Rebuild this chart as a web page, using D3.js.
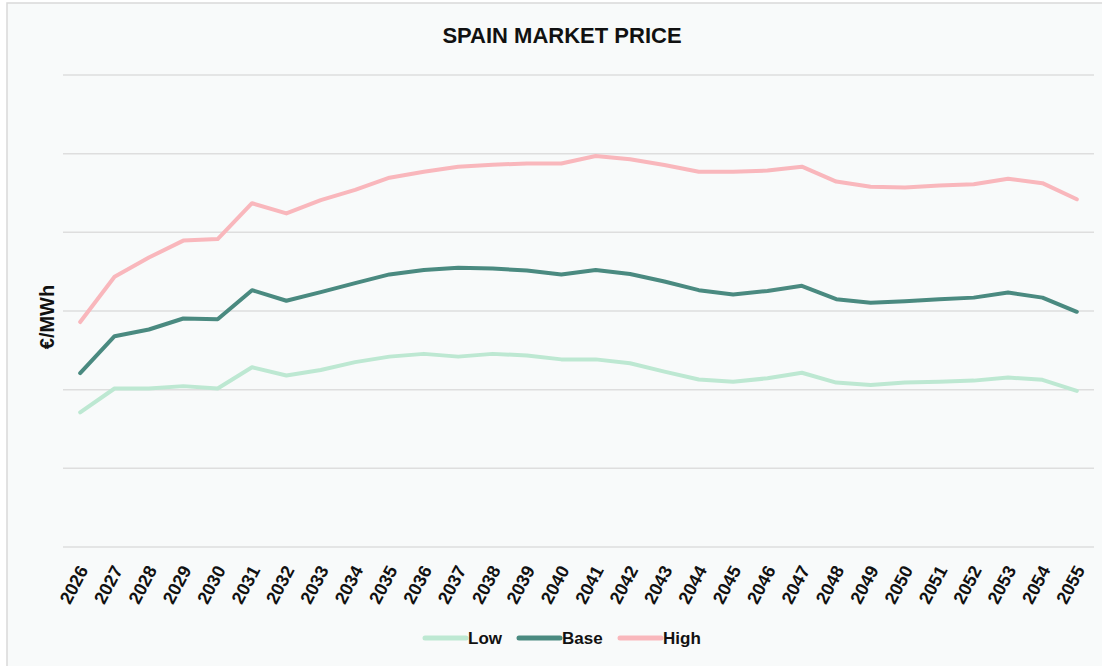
<html>
<meta charset="utf-8">
<script src="https://cdn.jsdelivr.net/npm/d3@7"></script>
<style>
body{
  margin: 0;
  background: white;
}
.grid line{
  stroke: #dedede;
  stroke-width: 1.5;
}
.tick-label{
  font: bold 18px "Liberation Sans", Arial, sans-serif;
  fill: #111;
}
.series{
  fill: none;
  stroke-width: 4;
  stroke-linejoin: round;
  stroke-linecap: round;
}
</style>
<body>
  <div id="chartDiv"></div>

<script>
var years = d3.range(2026, 2056).map(String);

var lowValues = [34.2, 40.3, 40.3, 40.9, 40.3, 45.7, 43.6, 45.0, 47.0, 48.4,
                 49.1, 48.4, 49.1, 48.7, 47.7, 47.7, 46.7, 44.6, 42.6, 42.0,
                 42.9, 44.3, 41.8, 41.2, 41.8, 42.0, 42.3, 43.1, 42.5, 39.7];
var baseValues = [44.2, 53.6, 55.3, 58.1, 57.9, 65.3, 62.6, 64.8, 67.1, 69.3,
                  70.4, 71.0, 70.8, 70.3, 69.3, 70.4, 69.4, 67.5, 65.3, 64.2,
                  65.1, 66.4, 63.0, 62.1, 62.5, 63.0, 63.4, 64.7, 63.4, 59.8];
var highValues = [57.2, 68.7, 73.6, 77.9, 78.3, 87.4, 84.8, 88.2, 90.8, 93.9,
                  95.4, 96.7, 97.2, 97.5, 97.5, 99.4, 98.6, 97.1, 95.4, 95.4,
                  95.7, 96.7, 92.9, 91.6, 91.4, 91.9, 92.2, 93.6, 92.5, 88.4];

var seriesNames = ["Low", "Base", "High"];
var seriesCols = ["#bde8d2", "#4a8a80", "#f9b7bc"];
var gridTicks = [0, 20, 40, 60, 80, 100, 120];

var width = 1102, height = 666;

var svg = d3.select("#chartDiv").append("svg")
  .attr("width", width).attr("height", height);

// chart frame
svg.append("rect")
  .attr("x", 7).attr("y", 3)
  .attr("width", width).attr("height", height)
  .attr("fill", "#f8fafa")
  .attr("stroke", "#d9d9d9")
  .attr("stroke-width", 1.5);

svg.append("text")
  .attr("x", 562).attr("y", 43)
  .attr("text-anchor", "middle")
  .style("font", "bold 22px 'Liberation Sans', Arial, sans-serif")
  .style("fill", "#111")
  .text("SPAIN MARKET PRICE");

var x = d3.scaleBand().domain(years).range([63, 1094]);
var y = d3.scaleLinear().domain([0, 120]).range([547, 75]);

var xc = function(d){ return x(d) + x.bandwidth() / 2; };

svg.append("g").attr("class", "grid")
  .selectAll("line").data(gridTicks).enter()
  .append("line")
  .attr("x1", 63).attr("x2", 1094)
  .attr("y1", function(d){ return y(d); })
  .attr("y2", function(d){ return y(d); });

svg.append("text")
  .attr("transform", "translate(54,317) rotate(-90)")
  .attr("text-anchor", "middle")
  .style("font", "bold 20px 'Liberation Sans', Arial, sans-serif")
  .style("fill", "#111")
  .text("€/MWh");

svg.append("g").selectAll("text").data(years).enter()
  .append("text")
  .attr("class", "tick-label")
  .attr("text-anchor", "end")
  .attr("transform", function(d){ return "translate(" + (xc(d) + 3) + ",567) rotate(-62)"; })
  .attr("dy", "0.35em")
  .text(function(d){ return d; });

var allSeries = [lowValues, baseValues, highValues];
var line = d3.line()
  .x(function(d, i){ return xc(years[i]); })
  .y(function(d){ return y(d); });

svg.append("g").selectAll("path").data(allSeries).enter()
  .append("path")
  .attr("class", "series")
  .attr("stroke", function(d, i){ return seriesCols[i]; })
  .attr("d", line);

// legend
var legendX = [425, 519, 620];
var legend = svg.append("g").selectAll("g").data(seriesNames).enter()
  .append("g")
  .attr("transform", function(d, i){ return "translate(" + legendX[i] + ",638)"; });

legend.append("line")
  .attr("x1", 0).attr("x2", 41)
  .attr("stroke", function(d, i){ return seriesCols[i]; })
  .attr("stroke-width", 5)
  .attr("stroke-linecap", "round");

legend.append("text")
  .attr("x", 43).attr("dy", "0.36em")
  .style("font", "bold 17px 'Liberation Sans', Arial, sans-serif")
  .style("fill", "#111")
  .text(function(d){ return d; });
</script>
</body>
</html>
